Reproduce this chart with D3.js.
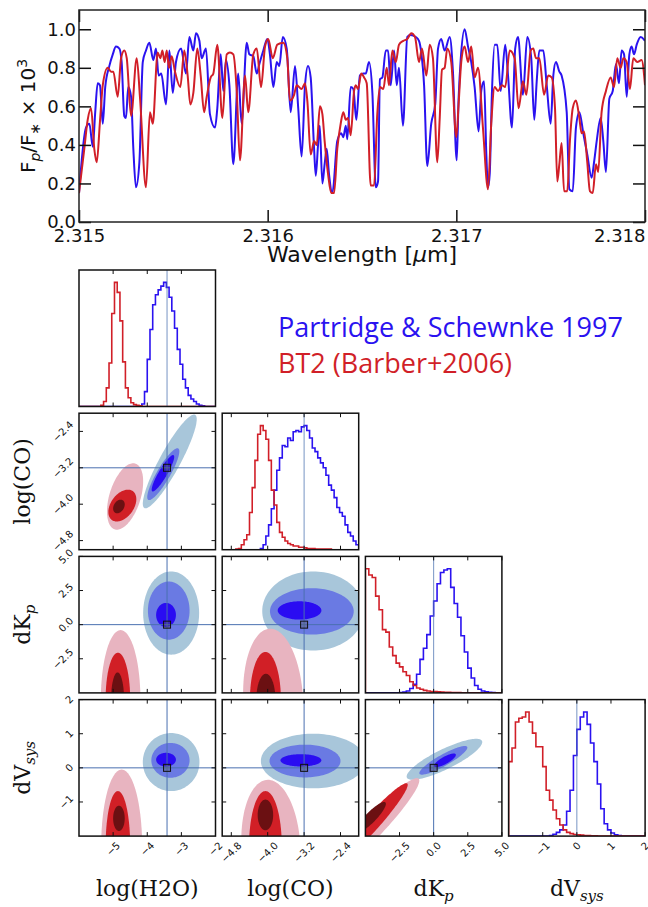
<!DOCTYPE html>
<html><head><meta charset="utf-8">
<script src="https://cdn.jsdelivr.net/npm/d3@7"></script>
<style>body{margin:0;background:#fff}svg{display:block}</style>
</head><body>
<svg id="c" width="648" height="907"></svg>
<script>
// ---------------- spectrum data ----------------
const blueWl = [
2.315000,2.315037,2.315055,2.315073,2.315086,2.315099,2.315111,2.315126,2.315139,2.315161,
2.315179,2.315196,2.315214,2.315226,2.315240,2.315249,2.315261,2.315276,2.315288,2.315302,
2.315320,2.315338,2.315355,2.315373,2.315394,2.315408,2.315422,2.315436,2.315461,2.315479,
2.315497,2.315514,2.315541,2.315567,2.315585,2.315606,
2.315620,2.315638,2.315650,2.315673,2.315694,2.315721,2.315733,2.315751,2.315765,2.315779,
2.315797,2.315818,2.315844,2.315862,2.315889,2.315903,2.315924,2.315942,2.315956,2.315977,
2.315998,2.316012,2.316030,2.316048,2.316062,2.316080,2.316101,2.316122,2.316145,2.316162,
2.316180,2.316198,2.316214,
2.316228,2.316246,2.316255,2.316267,2.316276,2.316290,2.316302,2.316313,2.316325,2.316343,
2.316369,2.316390,2.316401,2.316414,2.316422,2.316440,2.316454,2.316470,2.316489,2.316507,
2.316520,2.316537,2.316555,2.316573,2.316585,2.316595,2.316608,2.316626,2.316638,2.316652,
2.316670,2.316684,2.316696,2.316717,2.316740,2.316758,2.316785,2.316802,
2.316814,2.316829,2.316846,2.316867,2.316888,2.316903,2.316920,2.316938,2.316965,2.316982,
2.317002,2.317012,2.317023,2.317044,2.317062,2.317079,2.317097,2.317118,2.317132,2.317147,
2.317159,2.317168,2.317177,2.317189,2.317203,2.317217,2.317235,2.317259,2.317274,2.317295,
2.317312,2.317327,2.317353,2.317376,2.317397,
2.317413,2.317426,2.317440,2.317461,2.317479,2.317500,2.317514,2.317528,2.317546,2.317558,
2.317585,2.317599,2.317617,2.317634,2.317652,2.317673,2.317694,2.317717,2.317730,2.317744,
2.317765,2.317779,2.317793,2.317811,2.317829,2.317846,2.317862,2.317876,2.317889,2.317903,
2.317917,2.317929,2.317942,2.317956,2.317977,2.318000];
const blueFlux = [
.15,.49,.51,.39,.57,.72,.71,.51,.70,.81,
.87,.91,.90,.83,.55,.54,.70,.65,.38,.18,
.31,.83,.89,.93,.84,.90,.76,.77,.61,.89,
.67,.83,.90,.77,.96,.89,
.98,.94,.85,.90,.56,.49,.59,.87,.68,.84,
.71,.30,.77,.51,.93,.87,.86,.77,.82,.89,
.95,.87,.70,.83,.81,.96,.90,.57,.81,.59,
.34,.71,.81,
.75,.38,.24,.40,.50,.20,.30,.38,.25,.15,
.42,.46,.44,.50,.43,.70,.69,.53,.76,.77,
.77,.83,.67,.18,.21,.74,.75,.89,.89,.71,
.89,.71,.80,.50,.96,.97,.96,.94,
.88,.71,.29,.51,.61,.90,.95,.89,.96,.78,
.32,.64,.84,1.0,.91,.83,.70,.47,.68,.73,
.35,.18,.25,.68,.92,.92,.68,.92,.76,.49,
.90,.96,.66,.96,.85,
.53,.73,.89,.89,.71,.51,.76,.83,.78,.76,
.57,.17,.16,.49,.57,.46,.35,.23,.31,.42,
.54,.42,.26,.64,.68,.82,.72,.89,.87,.65,
.87,.91,.87,.92,.96,.94];
const redWl = [
2.315000,2.315028,2.315046,2.315064,2.315081,2.315094,2.315111,2.315126,2.315152,2.315170,
2.315182,2.315205,2.315223,2.315240,2.315253,2.315276,2.315306,2.315323,2.315355,2.315376,
2.315391,2.315417,2.315431,2.315442,2.315454,2.315465,2.315477,2.315491,2.315509,2.315537,
2.315558,2.315576,2.315590,2.315606,
2.315627,2.315645,2.315663,2.315677,2.315698,2.315712,2.315733,2.315760,2.315783,2.315800,
2.315818,2.315836,2.315853,2.315880,2.315897,2.315924,2.315942,2.315965,2.315986,2.316003,
2.316027,2.316051,2.316083,2.316104,2.316118,2.316140,2.316154,2.316180,2.316198,2.316211,
2.316228,2.316246,2.316260,2.316277,2.316290,2.316302,2.316320,2.316337,2.316352,2.316369,
2.316387,2.316401,2.316414,2.316426,2.316440,2.316458,2.316467,2.316479,2.316496,2.316511,
2.316525,2.316546,2.316564,2.316581,2.316595,2.316613,2.316631,2.316643,2.316661,2.316679,
2.316696,2.316719,2.316740,2.316761,2.316781,2.316802,2.316818,
2.316841,2.316859,2.316876,2.316899,2.316912,2.316924,2.316938,2.316952,2.316973,2.317000,
2.317012,2.317026,2.317044,2.317062,2.317079,2.317097,2.317115,2.317141,2.317168,2.317185,
2.317203,2.317221,2.317242,2.317259,2.317283,2.317309,2.317330,2.317353,2.317371,2.317394,
2.317408,2.317422,2.317440,2.317465,2.317487,2.317505,2.317523,2.317535,2.317546,2.317558,
2.317571,2.317588,2.317602,2.317617,2.317634,2.317652,2.317664,2.317677,2.317694,2.317708,
2.317723,2.317740,2.317752,2.317770,2.317793,2.317818,2.317836,2.317853,2.317871,2.317885,
2.317903,2.317920,2.317938,2.317959,2.317982,2.318000];
const redFlux = [
.15,.38,.53,.59,.38,.31,.52,.71,.80,.78,
.78,.65,.85,.89,.85,.55,.85,.65,.18,.57,
.51,.88,.85,.89,.83,.89,.80,.86,.78,.70,
.89,.76,.61,.67,
.90,.76,.57,.65,.75,.77,.92,.54,.87,.88,
.87,.68,.32,.76,.57,.87,.90,.70,.91,.95,
.85,.92,.93,.85,.63,.66,.71,.69,.72,.62,
.35,.42,.40,.60,.56,.42,.25,.15,.15,.38,
.51,.57,.53,.54,.45,.68,.71,.69,.77,.75,
.72,.19,.19,.56,.70,.69,.80,.71,.89,.83,
.92,.94,.95,.98,.96,.83,.90,
.76,.92,.85,.31,.54,.79,.80,.90,.83,.44,
.61,.83,.91,.83,.91,.75,.80,.49,.17,.51,
.70,.68,.71,.70,.89,.85,.59,.73,.66,.89,
.90,.85,.85,.66,.76,.75,.59,.21,.30,.41,
.16,.16,.42,.59,.63,.54,.46,.47,.31,.16,
.15,.30,.26,.57,.68,.75,.70,.85,.80,.85,
.83,.69,.85,.83,.84,.71];
const wlTicks = [2.315, 2.316, 2.317, 2.318];
const fluxTicks = [0.0, 0.2, 0.4, 0.6, 0.8, 1.0];

// ---------------- corner data ----------------
const paramNames = ["log(H2O)", "log(CO)", "dK", "dV"];
const paramRanges = [[-6, -2], [-5, -2], [-5, 5], [-2, 2]];
const truthValues = [-3.42, -3.2, 0, 0];
const tickValues = [[-5, -4, -3, -2], [-4.8, -4.0, -3.2, -2.4], [-2.5, 0, 2.5, 5], [-1, 0, 1, 2]];
const tickLabels = [["−5", "−4", "−3", "−2"], ["−4.8", "−4.0", "−3.2", "−2.4"], ["−2.5", "0.0", "2.5", "5.0"], ["−1", "0", "1", "2"]];

// 1D histograms (normalised bin heights)
const histH2O_blue = [0,0,0,0,0,0,0,0,0,0, 0,0,0,0,0,0,0,0,0,0, 0,0,0,.02,.12,.38,.62,.82,.90,.94, .97,1.0,.96,.88,.77,.63,.46,.34,.22,.15, .09,.06,.04,.02,.01,.005,0,0,0,0];
const histH2O_red  = [0,0,0,0,0,0,0,0,.01,.04, .15,.35,.75,1.0,.92,.69,.36,.15,.07,.03, .015,.01,.005,0,0,0,0,0,0,0, 0,0,0,0,0,0,0,0,0,0, 0,0,0,0,0,0,0,0,0,0];
const histCO_blue  = [0,0,0,0,0,0,0,0,0,0, 0,0,0,0,.01,.04,.11,.20,.33,.48, .64,.74,.84,.83,.90,.88,.95,.96,.95,.99, 1.0,.96,.90,.82,.79,.74,.70,.66,.60,.52, .48,.42,.34,.30,.27,.20,.14,.11,.07,.04];
const histCO_red   = [0,0,0,0,0,.005,.01,.04,.08,.12, .30,.50,.72,.93,1.0,.96,.89,.72,.48,.36, .22,.14,.10,.07,.05,.04,.03,.03,.02,.02, .015,.01,.01,.01,.005,.005,.005,.005,.005,.005, 0,0,0,0,0,0,0,0,0,0];
const histKp_blue  = [0,0,0,0,0,0,0,0,0,0, .003,.006,.015,.035,.07,.15,.27,.36,.47,.62, .74,.88,.97,.99,1.0,.85,.72,.61,.46,.33, .20,.12,.06,.03,.015,.008,.004,.002,0,0];
const histKp_red   = [1.0,.95,.93,.78,.67,.51,.49,.37,.30,.24, .21,.17,.14,.09,.06,.04,.03,.02,.015,.01, .01,.008,.006,.005,.004,.003,.003,.002,0,0, 0,0,0,0,0,0,0,0,0,0];
const histVs_blue  = [0,0,0,0,0,0,0,0,0,0, 0,0,.005,.015,.03,.05,.09,.20,.37,.65, .86,.96,1.0,.90,.75,.60,.42,.22,.10,.05, .025,.01,.005,0,0,0,0,0,0,0];
const histVs_red   = [.60,.71,.92,.95,.96,1.0,.92,.83,.72,.72, .56,.37,.29,.21,.14,.09,.05,.03,.02,.013, .01,.008,.005,.004,.003,.002,0,0,0,0, 0,0,0,0,0,0,0,0,0,0];

// 2D credible regions: [centreX, centreY, halfExtentX, halfExtentY, correlation] for outer, middle, inner level
const ctBlue_CO_H2O = [[-3.34,-3.06,.79,1.03,.90],[-3.53,-3.34,.47,.57,.88],[-3.54,-3.32,.33,.40,.90]];
const ctRed_CO_H2O  = [[-4.65,-3.83,.53,.73,.45],[-4.73,-4.03,.41,.35,.40],[-4.83,-4.05,.17,.15,.30]];
const ctBlue_Kp_H2O = [[-3.30,.85,.82,3.05,0],[-3.37,1.03,.61,2.13,0],[-3.45,.71,.29,.88,0]];
const ctRed_Kp_H2O  = [[-4.78,-5.5,.58,5.1,0],[-4.86,-5.5,.36,3.45,0],[-4.87,-5.5,.19,2.0,0]];
const ctBlue_Kp_CO  = [[-3.00,1.0,1.12,2.9,0],[-3.03,.97,.92,1.7,0],[-3.30,1.04,.48,.67,0]];
const ctRed_Kp_CO   = [[-3.88,-5.5,.66,5.2,-.1],[-4.05,-5.5,.34,3.5,0],[-4.04,-5.5,.21,1.9,0]];
const ctBlue_Vs_H2O = [[-3.30,.17,.83,.85,0],[-3.32,.22,.56,.51,0],[-3.45,.24,.29,.20,0]];
const ctRed_Vs_H2O  = [[-4.75,-2.3,.60,2.25,0],[-4.86,-2.3,.36,1.62,0],[-4.83,-1.48,.17,.37,0]];
const ctBlue_Vs_CO  = [[-3.00,.20,1.15,.80,0],[-3.18,.20,.78,.48,0],[-3.27,.22,.45,.18,0]];
const ctRed_Vs_CO   = [[-3.93,-2.3,.65,1.95,-.1],[-4.05,-2.3,.36,1.62,0],[-4.05,-1.38,.17,.45,0]];
const ctBlue_Vs_Kp  = [[.79,.25,2.77,.60,.84],[.71,.22,1.76,.42,.89],[.83,.22,.80,.20,.80]];
const ctRed_Vs_Kp   = [[-4.5,-1.75,3.45,1.45,.95],[-4.6,-1.65,2.7,1.2,.96],[-4.6,-1.45,1.1,.45,.88]];

const blueShades = ["#a8c6da", "#6a7ae3", "#2a0cf2"];
const redShades  = ["#e8b4c0", "#d11f26", "#6b1012"];
const blueLine = "#2a12f0", redLine = "#d11f28";

// ---------------- drawing ----------------
const svg = d3.select("#c");
svg.append("rect").attr("width", 648).attr("height", 907).attr("fill", "#fff");

// ===== top spectrum =====
const T = {l: 79, r: 645, t: 10, b: 222};
const xS = d3.scaleLinear().domain([2.315, 2.318]).range([T.l, T.r]);
const yS = d3.scaleLinear().domain([0, 1.1]).range([T.b, T.t]);
const defs = svg.append("defs");
defs.append("clipPath").attr("id", "clipTop").append("rect")
  .attr("x", T.l).attr("y", T.t).attr("width", T.r - T.l).attr("height", T.b - T.t);
const line = d3.line().x(d => xS(d[0])).y(d => yS(d[1])).curve(d3.curveMonotoneX);
const gTop = svg.append("g");
const gl = gTop.append("g").attr("clip-path", "url(#clipTop)");
gl.append("path").attr("d", line(blueWl.map((w, i) => [w, blueFlux[i]])))
  .attr("fill", "none").attr("stroke", blueLine).attr("stroke-width", 2);
gl.append("path").attr("d", line(redWl.map((w, i) => [w, redFlux[i]])))
  .attr("fill", "none").attr("stroke", redLine).attr("stroke-width", 2);

const tf = "DejaVu Sans";
const axB = gTop.append("g").attr("transform", `translate(0,${T.b})`)
  .call(d3.axisBottom(xS).tickValues(wlTicks).tickFormat(d3.format(".3f")).tickSizeInner(-12).tickSizeOuter(0).tickPadding(7));
const axT = gTop.append("g").attr("transform", `translate(0,${T.t})`)
  .call(d3.axisTop(xS).tickValues(wlTicks).tickFormat("").tickSizeInner(-12).tickSizeOuter(0));
const axL = gTop.append("g").attr("transform", `translate(${T.l},0)`)
  .call(d3.axisLeft(yS).tickValues(fluxTicks).tickFormat(d3.format(".1f")).tickSizeInner(-12).tickSizeOuter(0).tickPadding(3));
const axR = gTop.append("g").attr("transform", `translate(${T.r},0)`)
  .call(d3.axisRight(yS).tickValues(fluxTicks).tickFormat("").tickSizeInner(-12).tickSizeOuter(0));
[axB, axT, axL, axR].forEach(a => {
  a.select(".domain").remove();
  a.selectAll("line").attr("stroke", "#111").attr("stroke-width", 1.5);
  a.selectAll("text").attr("font-family", tf).attr("font-size", 18).attr("fill", "#111");
});
axB.selectAll(".tick text").filter(d => d === 2.318).attr("text-anchor", "end");
gTop.append("rect").attr("x", T.l).attr("y", T.t).attr("width", T.r - T.l).attr("height", T.b - T.t)
  .attr("fill", "none").attr("stroke", "#222").attr("stroke-width", 1.5);

const xl = gTop.append("text").attr("x", (T.l + T.r) / 2).attr("y", 262).attr("text-anchor", "middle")
  .attr("font-family", tf).attr("font-size", 22).attr("fill", "#111");
xl.append("tspan").text("Wavelength [");
xl.append("tspan").attr("font-style", "italic").text("μ");
xl.append("tspan").text("m]");

const yl = gTop.append("text").attr("transform", `translate(35,${(T.t + T.b) / 2}) rotate(-90)`)
  .attr("text-anchor", "middle").attr("font-family", tf).attr("font-size", 20).attr("fill", "#111");
yl.append("tspan").text("F");
yl.append("tspan").attr("font-style", "italic").attr("font-size", 14).attr("dy", 5).text("p");
yl.append("tspan").attr("dy", -5).text("/F");
yl.append("tspan").attr("font-size", 14).attr("dy", 5).text("∗");
yl.append("tspan").attr("dy", -5).text(" × 10");
yl.append("tspan").attr("font-size", 14).attr("dy", -8).text("3");

// ===== legend =====
svg.append("text").attr("x", 278).attr("y", 337).attr("font-family", "Open Sans").attr("font-size", 27)
  .attr("fill", blueLine).text("Partridge & Schewnke 1997");
svg.append("text").attr("x", 278).attr("y", 373).attr("font-family", "Open Sans").attr("font-size", 27)
  .attr("fill", redLine).text("BT2 (Barber+2006)");

// ===== corner plot =====
const S = 136.5, gap = 6.7, left0 = 79, top0 = 270;
const colX = d3.range(4).map(j => left0 + j * (S + gap));
const rowY = d3.range(4).map(i => top0 + i * (S + gap));
const truthColor = "#4a70b0";
const histData = [[histH2O_blue, histH2O_red], [histCO_blue, histCO_red], [histKp_blue, histKp_red], [histVs_blue, histVs_red]];
const ct = {
  "1-0": [ctBlue_CO_H2O, ctRed_CO_H2O],
  "2-0": [ctBlue_Kp_H2O, ctRed_Kp_H2O],
  "2-1": [ctBlue_Kp_CO, ctRed_Kp_CO],
  "3-0": [ctBlue_Vs_H2O, ctRed_Vs_H2O],
  "3-1": [ctBlue_Vs_CO, ctRed_Vs_CO],
  "3-2": [ctBlue_Vs_Kp, ctRed_Vs_Kp]
};

function ellipsePts(e) {
  const [cx, cy, ax, ay, rho] = e;
  const s = Math.sqrt(1 - rho * rho);
  return d3.range(120).map(k => {
    const t = 2 * Math.PI * k / 120;
    return [cx + ax * Math.cos(t), cy + ay * (rho * Math.cos(t) + s * Math.sin(t))];
  });
}
function histPts(vals, lo, hi) {
  const n = vals.length, w = (hi - lo) / n;
  const pts = [[lo, 0]];
  vals.forEach((v, i) => { pts.push([lo + i * w, v]); pts.push([lo + (i + 1) * w, v]); });
  pts.push([hi, 0]);
  return pts;
}
function rotLabel(g, txt, px, py, mode) {
  const t = g.append("text").text(txt).attr("font-family", "DejaVu Sans").attr("font-size", 10)
    .attr("fill", "#111").attr("text-anchor", "middle").attr("dominant-baseline", "central");
  const L = t.node().getComputedTextLength();
  const w = (L + 7.3) * Math.SQRT1_2;
  if (mode === "x") t.attr("transform", `translate(${px},${py + w / 2}) rotate(-45)`);
  else t.attr("transform", `translate(${px - w / 2},${py}) rotate(-45)`);
}

for (let i = 0; i < 4; i++) {
  for (let j = 0; j <= i; j++) {
    const g = svg.append("g").attr("transform", `translate(${colX[j]},${rowY[i]})`);
    const cid = `cp${i}${j}`;
    defs.append("clipPath").attr("id", cid).append("rect").attr("width", S).attr("height", S);
    const gc = g.append("g").attr("clip-path", `url(#${cid})`);
    const sx = d3.scaleLinear().domain(paramRanges[j]).range([0, S]);
    let sy;
    if (i === j) {
      sy = d3.scaleLinear().domain([0, 1.1]).range([S, 0]);
      const hl = d3.line().x(d => sx(d[0])).y(d => sy(d[1]));
      const [hb, hr] = histData[i];
      gc.append("path").attr("d", hl(histPts(hb, ...paramRanges[i]))).attr("fill", "none")
        .attr("stroke", blueLine).attr("stroke-width", 1.6);
      gc.append("path").attr("d", hl(histPts(hr, ...paramRanges[i]))).attr("fill", "none")
        .attr("stroke", redLine).attr("stroke-width", 1.6);
      gc.append("line").attr("x1", sx(truthValues[j])).attr("x2", sx(truthValues[j])).attr("y1", 0).attr("y2", S)
        .attr("stroke", truthColor).attr("stroke-opacity", 0.75).attr("stroke-width", 1);
    } else {
      sy = d3.scaleLinear().domain(paramRanges[i]).range([S, 0]);
      const el = d3.line().x(d => sx(d[0])).y(d => sy(d[1])).curve(d3.curveLinearClosed);
      const [cb, cr] = ct[`${i}-${j}`];
      cb.forEach((e, k) => gc.append("path").attr("d", el(ellipsePts(e))).attr("fill", blueShades[k]));
      cr.forEach((e, k) => gc.append("path").attr("d", el(ellipsePts(e))).attr("fill", redShades[k]));
      const tx = sx(truthValues[j]), ty = sy(truthValues[i]);
      gc.append("line").attr("x1", tx).attr("x2", tx).attr("y1", 0).attr("y2", S)
        .attr("stroke", truthColor).attr("stroke-width", 1);
      gc.append("line").attr("x1", 0).attr("x2", S).attr("y1", ty).attr("y2", ty)
        .attr("stroke", truthColor).attr("stroke-width", 1);
      gc.append("rect").attr("x", tx - 3.5).attr("y", ty - 3.5).attr("width", 7).attr("height", 7)
        .attr("fill", "rgba(90,90,90,0.35)").attr("stroke", "#111").attr("stroke-width", 1);
    }
    // frame
    g.append("rect").attr("width", S).attr("height", S).attr("fill", "none")
      .attr("stroke", "#111").attr("stroke-width", 1.5);
    // ticks inward
    tickValues[j].forEach(v => {
      const x = sx(v);
      g.append("line").attr("x1", x).attr("x2", x).attr("y1", S).attr("y2", S - 4).attr("stroke", "#111");
      g.append("line").attr("x1", x).attr("x2", x).attr("y1", 0).attr("y2", 4).attr("stroke", "#111");
    });
    if (i !== j) {
      tickValues[i].forEach(v => {
        const y = sy(v);
        g.append("line").attr("x1", 0).attr("x2", 4).attr("y1", y).attr("y2", y).attr("stroke", "#111");
        g.append("line").attr("x1", S).attr("x2", S - 4).attr("y1", y).attr("y2", y).attr("stroke", "#111");
      });
    }
    if (i === 3) tickValues[j].forEach((v, k) => rotLabel(g, tickLabels[j][k], sx(v), S + 5, "x"));
    if (j === 0 && i > 0) tickValues[i].forEach((v, k) => rotLabel(g, tickLabels[i][k], -5, sy(v), "y"));
  }
}

// axis labels of the corner plot
const sf = "DejaVu Serif";
function mathLabel(sel, idx) {
  if (idx === 0) sel.append("tspan").text("log(H2O)");
  else if (idx === 1) sel.append("tspan").text("log(CO)");
  else if (idx === 2) {
    sel.append("tspan").text("dK");
    sel.append("tspan").attr("font-style", "italic").attr("font-size", 15).attr("dy", 5).text("p");
  } else {
    sel.append("tspan").text("dV");
    sel.append("tspan").attr("font-style", "italic").attr("font-size", 15).attr("dy", 5).text("sys");
  }
}
for (let j = 0; j < 4; j++) {
  const t = svg.append("text").attr("x", colX[j] + S / 2).attr("y", 896).attr("text-anchor", "middle")
    .attr("font-family", sf).attr("font-size", 22).attr("fill", "#111");
  mathLabel(t, j);
}
for (let i = 1; i < 4; i++) {
  const t = svg.append("text").attr("transform", `translate(30,${rowY[i] + S / 2}) rotate(-90)`)
    .attr("text-anchor", "middle").attr("font-family", sf).attr("font-size", 22).attr("fill", "#111");
  mathLabel(t, i);
}
</script>
</body></html>
